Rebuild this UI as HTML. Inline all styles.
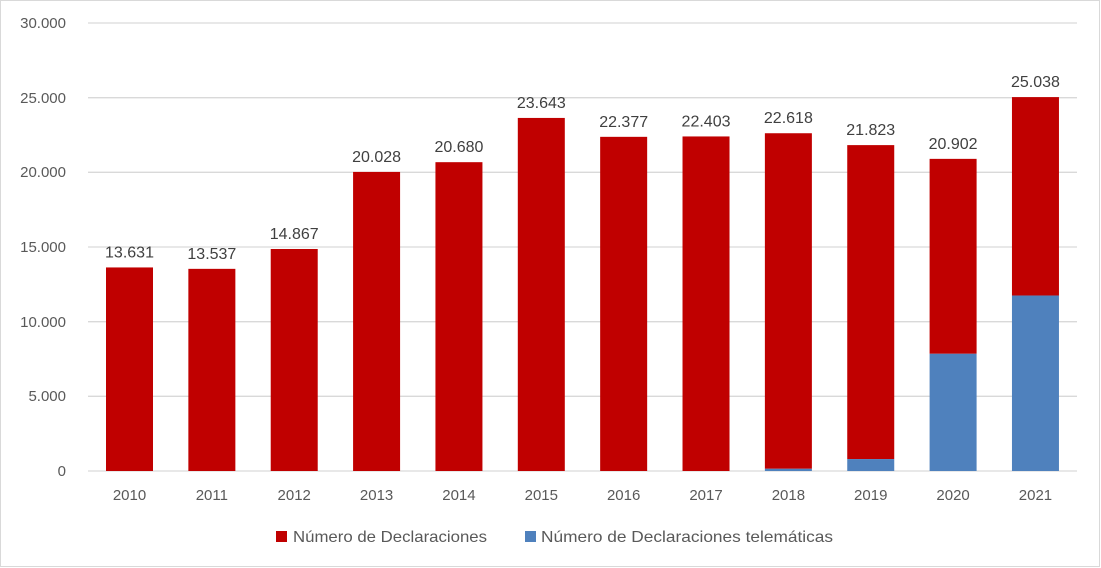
<!DOCTYPE html>
<html><head><meta charset="utf-8"><style>
body{margin:0;background:#fff}
svg{display:block;font-family:"Liberation Sans",sans-serif}
</style></head><body>
<svg width="1101" height="568" viewBox="0 0 1101 568">
<rect x="0.5" y="0.5" width="1099" height="566" fill="#fff" stroke="#d9d9d9"/>
<g stroke="#d9d9d9" stroke-width="1.3">
<line x1="88" x2="1077" y1="23" y2="23"/><line x1="88" x2="1077" y1="97.7" y2="97.7"/>
<line x1="88" x2="1077" y1="172.3" y2="172.3"/><line x1="88" x2="1077" y1="247" y2="247"/>
<line x1="88" x2="1077" y1="321.7" y2="321.7"/><line x1="88" x2="1077" y1="396.3" y2="396.3"/>
<line x1="88" x2="1077" y1="471" y2="471"/>
</g>
<g fill="#595959" font-size="15" text-anchor="end">
<text x="66" y="28">30.000</text><text x="66" y="103">25.000</text><text x="66" y="177">20.000</text>
<text x="66" y="252">15.000</text><text x="66" y="327">10.000</text><text x="66" y="401">5.000</text><text x="66" y="476">0</text>
</g>
<g id="bars"></g>
<g fill="#595959" font-size="15" text-anchor="middle" id="xl"></g>
<g fill="#404040" font-size="16" text-anchor="middle" id="dl"></g>
<rect x="276" y="531" width="11" height="11" fill="#c00000"/>
<text x="293" y="542" font-size="16" fill="#595959" textLength="194" lengthAdjust="spacingAndGlyphs">Número de Declaraciones</text>
<rect x="525" y="531" width="11" height="11" fill="#4f81bd"/>
<text x="541" y="542" font-size="16" fill="#595959" textLength="292" lengthAdjust="spacingAndGlyphs">Número de Declaraciones telemáticas</text>
<script>
var tot=[13631,13537,14867,20028,20680,23643,22377,22403,22618,21823,20902,25038];
var bl=[0,0,0,0,0,0,0,0,150,800,7850,11750];
var yrs=[2010,2011,2012,2013,2014,2015,2016,2017,2018,2019,2020,2021];
var s=448/30000,ns="http://www.w3.org/2000/svg";
function el(p,t,a,txt){var e=document.createElementNS(ns,t);for(var k in a)e.setAttribute(k,a[k]);if(txt)e.textContent=txt;p.appendChild(e);}
var B=document.getElementById('bars'),X=document.getElementById('xl'),D=document.getElementById('dl');
for(var i=0;i<12;i++){var x=106+i*82.36,c=x+23.5;
var ht=tot[i]*s,hb=bl[i]*s;
el(B,'rect',{x:x,y:471-ht,width:47,height:ht-hb,fill:'#c00000'});
if(hb>0)el(B,'rect',{x:x,y:471-hb,width:47,height:hb,fill:'#4f81bd'});
el(X,'text',{x:c,y:500},String(yrs[i]));
el(D,'text',{x:c,y:471-ht-10},tot[i].toLocaleString('de-DE').replace(/,/g,'.'));}
</script>
</svg>
</body></html>
